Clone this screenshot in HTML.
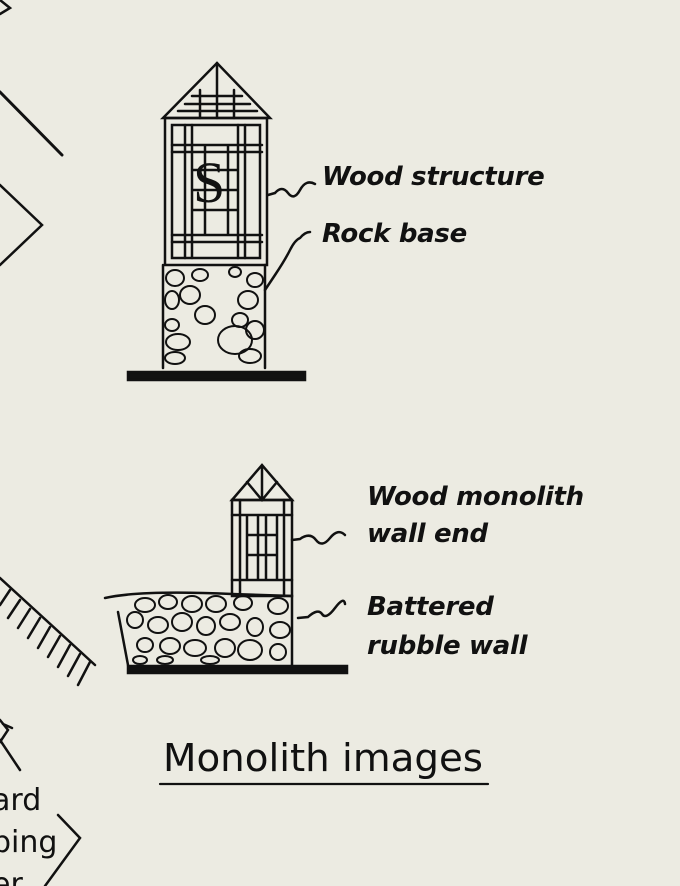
<!DOCTYPE html>
<html><head><meta charset="utf-8"><style>
html,body{margin:0;padding:0;background:#ecebe2;}
svg{display:block}
text{font-family:"DejaVu Sans","Liberation Sans",sans-serif;fill:#111;}
.l{font-style:italic;font-weight:bold;font-size:26px;letter-spacing:-0.3px}
</style></head><body>
<svg width="680" height="886" viewBox="0 0 680 886" xmlns="http://www.w3.org/2000/svg">
<rect width="680" height="886" fill="#ecebe2"/>
<g stroke="#111" fill="none" stroke-width="2.5" stroke-linecap="round">
<path d="M0 0 L10 8 L0 14"/>
<path d="M0 92 L62 155" stroke-width="3"/>
<path d="M0 185 L42 225 L0 265"/>
<path d="M0 578 L95 665"/>
<path d="M10 590 L0 605 M20 600 L8 618 M30 609 L18 628 M40 618 L28 638 M50 627 L38 648 M60 636 L48 657 M70 645 L58 667 M80 654 L68 676 M90 662 L78 685"/>
<path d="M0 740 L20 770"/>
<path d="M58 815 L80 838 L45 886"/>
<path d="M0 720 L8 730 L0 742 M3 724 L12 728"/>
<path d="M163 118 L217 63 L270 118 Z"/>
<path d="M217 63 L217 118 M200 90 L200 118 M234 90 L234 118 M185 104 L250 104 M192 96 L242 96 M178 111 L257 111"/>
<rect x="165" y="118" width="102" height="147"/>
<rect x="172" y="125" width="88" height="133"/>
<path d="M185 125 V258 M192 125 V258 M238 125 V258 M245 125 V258 M172 145 H262 M172 152 H262 M172 235 H262 M172 242 H262 M192 170 H238 M192 190 H238 M192 210 H238 M205 145 V235 M228 145 V235"/>
<path d="M268 195 L275 193 M275 193 Q282 185 288 193 T300 190 T315 184"/>
<path d="M265 290 L275 275 Q285 260 290 250 Q295 240 300 238 Q305 232 310 232"/>
<path d="M163 265 V368 M265 265 V368"/>
<g stroke-width="2">
<ellipse cx="175" cy="278" rx="9" ry="8"/><ellipse cx="200" cy="275" rx="8" ry="6"/><ellipse cx="235" cy="272" rx="6" ry="5"/><ellipse cx="255" cy="280" rx="8" ry="7"/>
<ellipse cx="172" cy="300" rx="7" ry="9"/><ellipse cx="190" cy="295" rx="10" ry="9"/><ellipse cx="205" cy="315" rx="10" ry="9"/><ellipse cx="248" cy="300" rx="10" ry="9"/>
<ellipse cx="172" cy="325" rx="7" ry="6"/><ellipse cx="178" cy="342" rx="12" ry="8"/><ellipse cx="235" cy="340" rx="17" ry="14"/><ellipse cx="255" cy="330" rx="9" ry="9"/><ellipse cx="175" cy="358" rx="10" ry="6"/><ellipse cx="250" cy="356" rx="11" ry="7"/><ellipse cx="240" cy="320" rx="8" ry="7"/>
</g>
<rect x="128" y="372" width="177" height="8" fill="#111"/>
<path d="M232 500 L262 465 L292 500 Z M262 465 V500 M247 482 L262 500 L277 482"/>
<rect x="232" y="500" width="60" height="96"/>
<path d="M240 500 V596 M284 500 V596 M247 515 V580 M277 515 V580 M232 515 H292 M232 580 H292 M247 535 H277 M247 555 H277 M258 515 V580 M266 515 V580"/>
<path d="M292 540 L300 539 Q310 532 316 540 T330 538 T345 535"/>
<path d="M298 618 L308 617 Q318 608 322 614 T335 608 T345 604"/>
<path d="M105 598 Q140 590 232 594 L292 596 V665 M118 612 L128 665"/>
<g stroke-width="2">
<ellipse cx="145" cy="605" rx="10" ry="7"/><ellipse cx="168" cy="602" rx="9" ry="7"/><ellipse cx="192" cy="604" rx="10" ry="8"/><ellipse cx="216" cy="604" rx="10" ry="8"/><ellipse cx="243" cy="603" rx="9" ry="7"/><ellipse cx="278" cy="606" rx="10" ry="8"/>
<ellipse cx="135" cy="620" rx="8" ry="8"/><ellipse cx="158" cy="625" rx="10" ry="8"/><ellipse cx="182" cy="622" rx="10" ry="9"/><ellipse cx="206" cy="626" rx="9" ry="9"/><ellipse cx="230" cy="622" rx="10" ry="8"/><ellipse cx="255" cy="627" rx="8" ry="9"/><ellipse cx="280" cy="630" rx="10" ry="8"/>
<ellipse cx="145" cy="645" rx="8" ry="7"/><ellipse cx="170" cy="646" rx="10" ry="8"/><ellipse cx="195" cy="648" rx="11" ry="8"/><ellipse cx="225" cy="648" rx="10" ry="9"/><ellipse cx="250" cy="650" rx="12" ry="10"/><ellipse cx="278" cy="652" rx="8" ry="8"/><ellipse cx="140" cy="660" rx="7" ry="4"/><ellipse cx="165" cy="660" rx="8" ry="4"/><ellipse cx="210" cy="660" rx="9" ry="4"/>
</g>
<rect x="128" y="666" width="219" height="7" fill="#111"/>
<path d="M160 784 H488" stroke-width="2.2"/>
</g>
<text x="193" y="202" font-size="58" style="font-family:'Liberation Serif',serif">S</text>
<text class="l" x="322" y="185">Wood structure</text>
<text class="l" x="322" y="242">Rock base</text>
<text class="l" x="367" y="505">Wood monolith</text>
<text class="l" x="367" y="542">wall end</text>
<text class="l" x="367" y="615">Battered</text>
<text class="l" x="367" y="654">rubble wall</text>
<text x="163" y="771" font-size="38" textLength="320" lengthAdjust="spacingAndGlyphs" style="font-weight:500">Monolith images</text>
<text x="-8" y="810" font-size="30">ard</text>
<text x="-8" y="852" font-size="30">ping</text>
<text x="-8" y="894" font-size="30">er</text>
</svg>
</body></html>
